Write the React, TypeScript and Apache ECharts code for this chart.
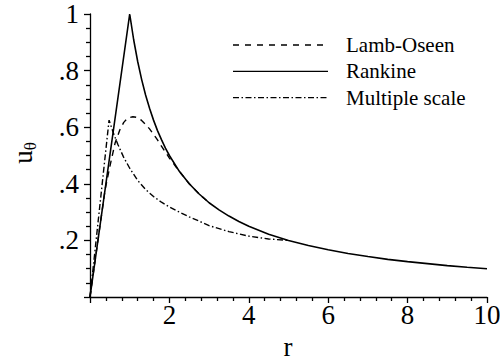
import React, { useEffect, useRef } from "react";
import * as echarts from "echarts";

const FONT = "Liberation Serif";

const rRankine = [0, 1, 1.1, 1.2, 1.3, 1.4, 1.5, 1.6, 1.7, 1.8, 1.9, 2, 2.25, 2.5, 2.75, 3, 3.25, 3.5, 3.75, 4, 4.5, 5, 5.5, 6, 6.5, 7, 7.5, 8, 8.5, 9, 9.5, 10];
const uRankine = [0, 1, 0.909, 0.833, 0.769, 0.714, 0.667, 0.625, 0.588, 0.556, 0.526, 0.5, 0.444, 0.4, 0.364, 0.333, 0.308, 0.286, 0.267, 0.25, 0.222, 0.2, 0.182, 0.167, 0.154, 0.143, 0.133, 0.125, 0.118, 0.111, 0.105, 0.1];

const rLamb = [0, 0.2, 0.38, 0.5, 0.63, 0.75, 0.85, 0.95, 1.08, 1.2, 1.3, 1.4, 1.5, 1.6, 1.7, 1.8, 1.9, 2.0, 2.25, 2.5, 2.75, 3];
const uLamb = [0, 0.2, 0.379, 0.461, 0.543, 0.59, 0.617, 0.632, 0.637, 0.634, 0.624, 0.61, 0.594, 0.575, 0.555, 0.533, 0.512, 0.491, 0.444, 0.4, 0.364, 0.333];

const rMulti = [0, 0.48, 0.6, 0.7, 0.84, 1.0, 1.2, 1.4, 1.6, 1.8, 2.0, 2.25, 2.5, 2.75, 3.0, 3.5, 4.0, 4.5, 5.0];
const uMulti = [0, 0.625, 0.575, 0.54, 0.496, 0.455, 0.412, 0.38, 0.355, 0.335, 0.318, 0.3, 0.283, 0.268, 0.252, 0.231, 0.215, 0.205, 0.2];

const legendNames = ["Lamb-Oseen", "Rankine", "Multiple scale"];
const legendDashes: (number[] | null)[] = [[6, 6], null, [6, 2.5, 1.5, 2.5]];
const xTitle = "r";
const yTitle = "{u|u}{s|θ}";

const pairs = (xs: number[], ys: number[]) => xs.map((x, i) => [x, ys[i]]);

export default function App() {
  const ref = useRef<HTMLDivElement>(null);
  useEffect(() => {
    document.body.style.margin = "0";
    const chart = echarts.init(ref.current!, null, { renderer: "svg" });
    const graphics: any[] = [];
    legendNames.forEach((name, i) => {
      const y = 45 + i * 26.3;
      graphics.push({
        type: "line",
        shape: { x1: 233, y1: y, x2: 328, y2: y },
        style: { stroke: "#000", lineWidth: 1.3, lineDash: legendDashes[i] || undefined },
      });
      graphics.push({
        type: "text",
        x: 346,
        y,
        style: { text: name, fill: "#000", fontFamily: FONT, fontSize: 21, verticalAlign: "middle" },
      });
    });
    graphics.push({
      type: "text",
      x: 288,
      y: 347,
      style: { text: xTitle, fill: "#000", fontFamily: FONT, fontSize: 27, align: "center", verticalAlign: "middle" },
    });
    graphics.push({
      type: "text",
      x: 23,
      y: 153,
      rotation: Math.PI / 2,
      style: {
        text: yTitle,
        fill: "#000",
        align: "center",
        verticalAlign: "middle",
        rich: {
          u: { fontFamily: FONT, fontSize: 27, fill: "#000" },
          s: { fontFamily: FONT, fontSize: 17, fill: "#000", padding: [14, 0, 0, 0] },
        },
      },
    });
    chart.setOption({
      animation: false,
      backgroundColor: "#fff",
      grid: { left: 90, right: 13, top: 14, bottom: 64, outerBoundsMode: "none", containLabel: false },
      xAxis: {
        type: "value",
        min: 0,
        max: 10,
        interval: 2,
        axisLine: { show: true, onZero: false, lineStyle: { color: "#000", width: 1.3 } },
        axisTick: { show: true, length: 6, lineStyle: { color: "#000", width: 1.3 } },
        minorTick: { show: true, splitNumber: 5, length: 4, lineStyle: { color: "#000", width: 1.3 } },
        splitLine: { show: false },
        axisLabel: {
          margin: 4,
          fontFamily: FONT,
          fontSize: 27,
          color: "#000",
          showMinLabel: false,
          hideOverlap: false,
        },
      },
      yAxis: {
        type: "value",
        min: 0,
        max: 1,
        interval: 0.2,
        axisLine: { show: true, onZero: false, lineStyle: { color: "#000", width: 1.3 } },
        axisTick: { show: true, length: 6, lineStyle: { color: "#000", width: 1.3 } },
        minorTick: { show: true, splitNumber: 4, length: 4, lineStyle: { color: "#000", width: 1.3 } },
        splitLine: { show: false },
        axisLabel: {
          margin: 11,
          fontFamily: FONT,
          fontSize: 27,
          color: "#000",
          hideOverlap: false,
          formatter: (v: number) => (v === 0 ? "" : v === 1 ? "1" : v.toFixed(1).replace(/^0/, "")),
        },
      },
      series: [
        { type: "line", showSymbol: false, name: "Rankine", data: pairs(rRankine, uRankine), lineStyle: { color: "#000", width: 1.6, type: "solid" } },
        { type: "line", showSymbol: false, name: "Lamb-Oseen", data: pairs(rLamb, uLamb), lineStyle: { color: "#000", width: 1.4, type: [6, 5] } },
        { type: "line", showSymbol: false, name: "Multiple scale", data: pairs(rMulti, uMulti), lineStyle: { color: "#000", width: 1.4, type: [6, 2.5, 1.5, 2.5] } },
      ],
      graphic: graphics,
    });
    return () => chart.dispose();
  }, []);
  return <div ref={ref} style={{ width: 500, height: 361 }} />;
}
